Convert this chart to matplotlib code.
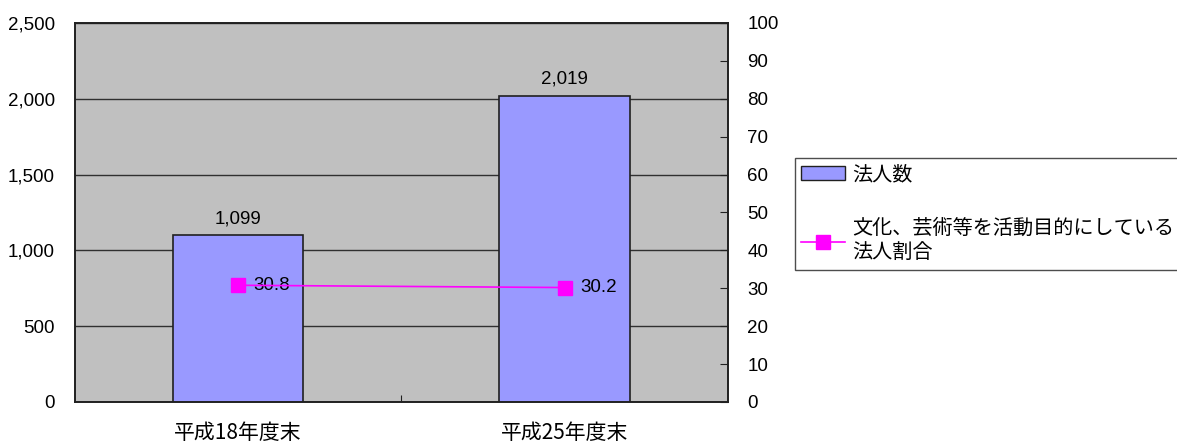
import matplotlib
matplotlib.use("Agg")
import matplotlib.pyplot as plt
from matplotlib.patches import Patch
from matplotlib.lines import Line2D
from matplotlib.ticker import FuncFormatter, MultipleLocator

plt.rcParams['font.family'] = ['Liberation Sans', 'Noto Sans CJK JP', 'DejaVu Sans']

categories = ['平成18年度末', '平成25年度末']
counts = [1099, 2019]
ratios = [30.8, 30.2]
count_label = '法人数'
ratio_label = '文化、芸術等を活動目的にしている\n法人割合'

W, H = 1177, 442
fig = plt.figure(figsize=(W / 100, H / 100), dpi=100)
ax = fig.add_axes([74.5 / W, 1 - 402 / H, (728 - 74.5) / W, (402 - 23) / H])
ax.set_facecolor('#C0C0C0')

x = list(range(len(categories)))
bars = ax.bar(x, counts, width=0.4, color='#9999FF', edgecolor='#202020', linewidth=1.2, zorder=3)
ax.set_xlim(-0.5, 1.5)
ax.set_ylim(0, 2500)
ax.yaxis.set_major_locator(MultipleLocator(500))
ax.yaxis.set_major_formatter(FuncFormatter(lambda v, p: f'{int(v):,}'))
ax.grid(axis='y', color='#303030', linewidth=1.0, zorder=1)
ax.set_xticks([0.5])
ax.set_xticklabels([''])
ax.tick_params(axis='x', direction='in', length=5, color='#202020')
ax.tick_params(axis='y', direction='in', length=0, labelsize=13.5, pad=14)
for c, xx in zip(categories, x):
    ax.text(xx, -31 / 379, c, transform=ax.get_xaxis_transform(), ha='center', va='center', fontsize=15,
            family=['Noto Sans CJK JP', 'Liberation Sans'])
for s in ax.spines.values():
    s.set_color('#202020')
    s.set_linewidth(1.2)
for b, v in zip(bars, counts):
    ax.annotate(f'{v:,}', (b.get_x() + b.get_width() / 2, v), xytext=(0, 6), textcoords='offset points',
                ha='center', va='bottom', fontsize=13.5, zorder=5)

ax2 = ax.twinx()
ax2.set_ylim(0, 100)
ax2.yaxis.set_major_locator(MultipleLocator(10))
ax2.tick_params(axis='y', direction='in', length=6, labelsize=13.5, pad=14, color='#202020')
ax2.plot(x, ratios, color='#FF00FF', linewidth=1.2, marker='s', markersize=10,
         markerfacecolor='#FF00FF', markeredgecolor='#FF00FF', zorder=4)
for xx, v in zip(x, ratios):
    ax2.annotate(f'{v}', (xx, v), xytext=(11, 0), textcoords='offset points',
                 ha='left', va='center', fontsize=13.5)
for s in ax2.spines.values():
    s.set_color('#202020')
    s.set_linewidth(1.2)

handles = [Patch(facecolor='#9999FF', edgecolor='#202020', linewidth=1.0),
           Line2D([0], [0], color='#FF00FF', linewidth=1.2, marker='s', markersize=10,
                  markerfacecolor='#FF00FF', markeredgecolor='#FF00FF')]
leg = fig.legend(handles, [count_label, ratio_label], loc='upper left',
                 bbox_to_anchor=(795 / W, 1 - 158 / H), frameon=True, fancybox=False,
                 edgecolor='#202020', labelspacing=1.65, handlelength=2.2,
                 handletextpad=0.35, borderpad=0.3, borderaxespad=0,
                 prop={'family': ['Noto Sans CJK JP', 'Liberation Sans'], 'size': 14.5})
leg.get_frame().set_linewidth(1.0)

fig.savefig('out.png', dpi=100)
